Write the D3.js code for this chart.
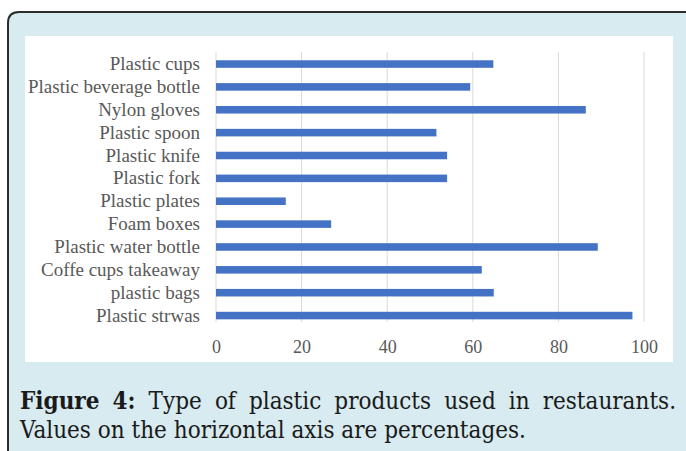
<!DOCTYPE html>
<html>
<head>
<meta charset="utf-8">
<script src="https://cdn.jsdelivr.net/npm/d3@7"></script>
<style>
  html, body { margin: 0; padding: 0; background: #ffffff; }
  svg { display: block; }
</style>
</head>
<body>
<svg id="chart" width="686" height="451"></svg>
<script>
// Plastic products used in restaurants (% of respondents)
const categories = [
  "Plastic cups",
  "Plastic beverage bottle",
  "Nylon gloves",
  "Plastic spoon",
  "Plastic knife",
  "Plastic fork",
  "Plastic plates",
  "Foam boxes",
  "Plastic water bottle",
  "Coffe cups takeaway",
  "plastic bags",
  "Plastic strwas"
];
const values = [64.8, 59.4, 86.4, 51.5, 54, 54, 16.3, 26.9, 89.2, 62.1, 64.9, 97.3];
const xTicks = [0, 20, 40, 60, 80, 100];
const captionBold = "Figure 4:";
const captionLines = [
  "Type of plastic products used in restaurants.",
  "Values on the horizontal axis are percentages."
];

const svg = d3.select("#chart");
const W = 686, H = 451;

// Framed panel with a rounded top-left corner
const r = 11, bx = 8, by = 12;
svg.append("path")
  .attr("d", `M${bx},${H + 2} V${by + r} Q${bx},${by} ${bx + r},${by} H${W + 2} V${H + 2} Z`)
  .attr("fill", "#d7ebf0");
svg.append("path")
  .attr("d", `M${bx},${H + 2} V${by + r} Q${bx},${by} ${bx + r},${by} H${W + 2}`)
  .attr("fill", "none")
  .attr("stroke", "#2b2b2b")
  .attr("stroke-width", 2);

// White chart area
svg.append("rect")
  .attr("x", 25).attr("y", 36)
  .attr("width", 648).attr("height", 326)
  .attr("fill", "#ffffff");

// Scales
const x = d3.scaleLinear().domain([0, 100]).range([216, 644]);
const y = d3.scaleBand().domain(categories).range([52.6, 327]).paddingInner(0.67).paddingOuter(0.335);

// Vertical gridlines
const gridTop = 52, gridBottom = 322;
svg.append("g")
  .selectAll("line")
  .data(xTicks)
  .join("line")
  .attr("x1", d => x(d)).attr("x2", d => x(d))
  .attr("y1", gridTop).attr("y2", gridBottom)
  .attr("stroke", "#d9d9d9")
  .attr("stroke-width", 1);

// Bars
svg.append("g")
  .selectAll("rect")
  .data(values)
  .join("rect")
  .attr("x", x(0))
  .attr("y", (d, i) => y(categories[i]))
  .attr("width", d => x(d) - x(0))
  .attr("height", y.bandwidth())
  .attr("fill", "#4472c4");

// Category labels
const serif = "'Liberation Serif', 'Times New Roman', Times, serif";
const yAxis = d3.axisLeft(y).tickSize(0).tickPadding(0);
const gy = svg.append("g").attr("transform", "translate(200,0)").call(yAxis)
  .attr("font-family", serif);
gy.select(".domain").remove();
gy.selectAll("text")
  .attr("fill", "#595959")
  .style("font-family", serif)
  .style("font-size", "19px");

// Value axis labels
const xAxis = d3.axisBottom(x).tickValues(xTicks).tickSize(0).tickPadding(0).tickFormat(d3.format("d"));
const gx = svg.append("g").attr("transform", "translate(0,340)").call(xAxis)
  .attr("font-family", serif);
gx.select(".domain").remove();
gx.selectAll("text")
  .attr("fill", "#595959")
  .style("font-family", serif)
  .style("font-size", "18px");

// Caption, first line justified across the panel
const capFont = "'DejaVu Serif Condensed', 'DejaVu Serif', serif";
const capSize = 24;
const capLeft = 20, capRight = 676;
const line1Words = (captionBold + " " + captionLines[0]).split(" ");
const capG = svg.append("g")
  .style("font-family", capFont)
  .style("font-size", capSize + "px")
  .attr("fill", "#1a1a1a");

// measure words of line 1
const tmp = capG.append("text").attr("x", 0).attr("y", -100);
const widths = line1Words.map((w, i) => {
  tmp.text(w).attr("font-weight", i < 2 ? "bold" : "normal");
  return tmp.node().getComputedTextLength();
});
tmp.remove();
const total = d3.sum(widths);
const gap = (capRight - capLeft - total) / (line1Words.length - 1);
let cx = capLeft;
line1Words.forEach((w, i) => {
  capG.append("text")
    .attr("x", cx).attr("y", 409)
    .attr("font-weight", i < 2 ? "bold" : "normal")
    .text(w);
  cx += widths[i] + gap;
});
capG.append("text")
  .attr("x", capLeft).attr("y", 438)
  .text(captionLines[1]);
</script>
</body>
</html>
